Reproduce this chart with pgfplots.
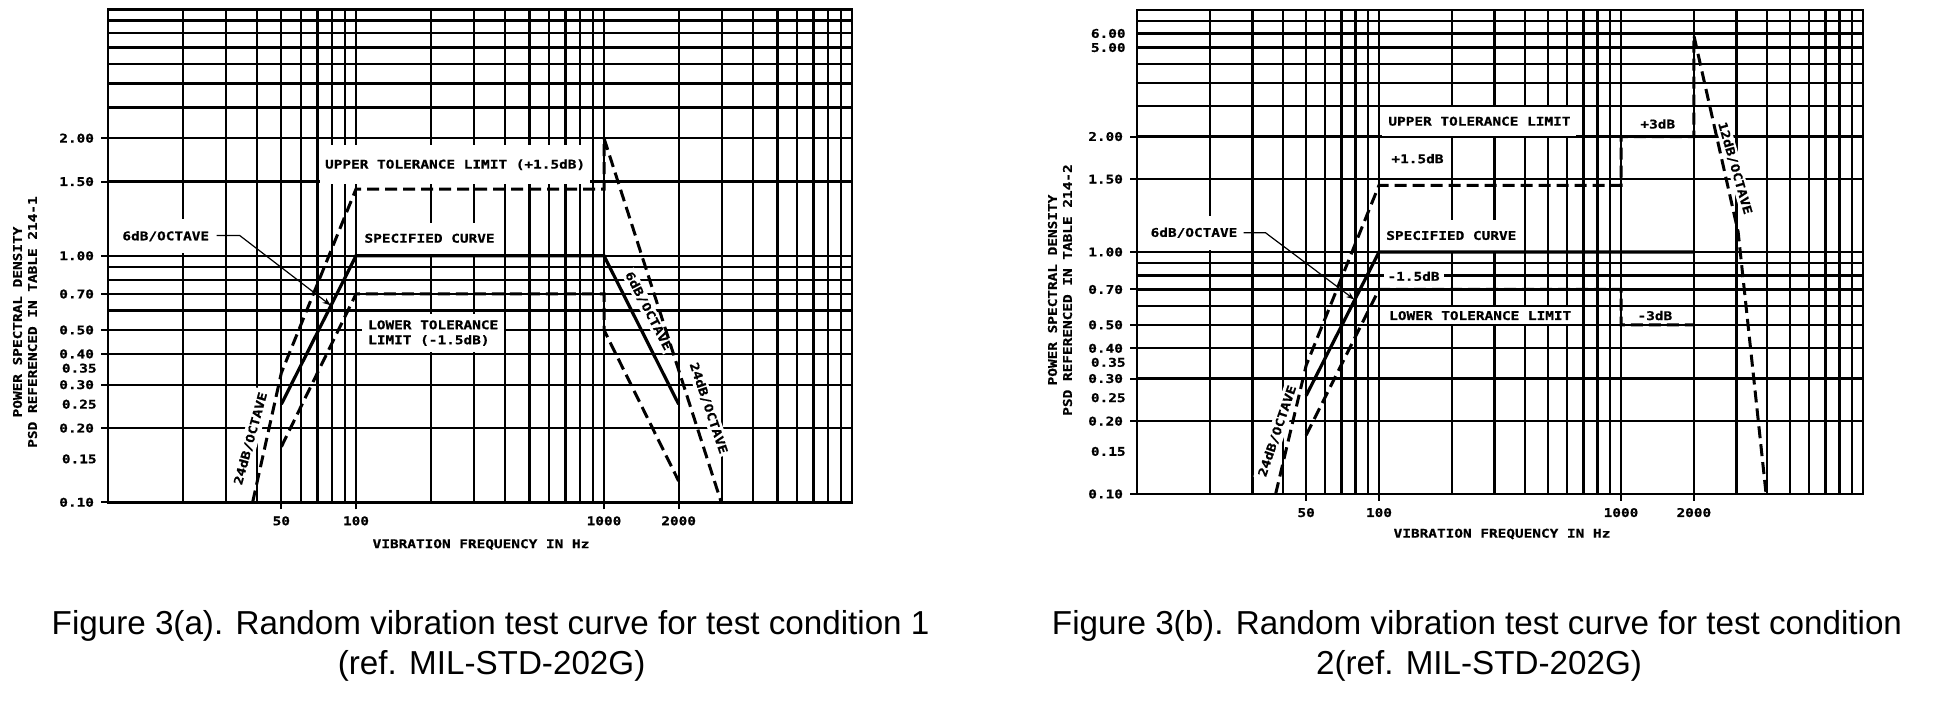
\documentclass[border=0pt]{standalone}
\usepackage{pgfplots}
\pgfplotsset{compat=1.18}
\usepackage{fontspec}
\usetikzlibrary{arrows.meta}
\newfontfamily\cad[FakeStretch=1.2, BoldFeatures={FakeBold=0.8}]{DejaVu Sans Mono}
\newfontfamily\arial{Liberation Sans}
\newcommand\cadf{\cad\bfseries\fontsize{6}{7.5}\selectfont}

\tikzset{
  lab/.style={font=\cadf, fill=white, inner xsep=2pt, inner ysep=2pt, align=left},
  spec/.style={black, line width=1.6pt},
  tol/.style={black, line width=1.5pt, dash pattern=on 6pt off 3pt},
  lead/.style={black, line width=0.6pt},
  ylab/.style={font=\cadf, anchor=east, inner sep=0pt, xshift=-5.5pt},
}

\begin{document}
\begin{tikzpicture}
\useasboundingbox (0,0) rectangle (967.5pt,-352.5pt);

% ---------------- Figure 3(a) ----------------
\begin{axis}[scale only axis, xmode=log, ymode=log,
  xmin=10, xmax=10000, ymin=0.1, ymax=10,
  axis line style={line width=1.4pt},
  minor xtick={20,30,40,50,60,70,80,90,100,200,300,400,500,600,700,800,900,1000,2000,3000,4000,5000,6000,7000,8000,9000},
  minor ytick={0.2,0.3,0.4,0.5,0.6,0.7,0.8,0.9,1,2,3,4,5,6,7,8,9},
  xminorgrids=true, yminorgrids=true,
  minor grid style={black, line width=1.15pt},
  minor tick length=0pt,
  xtick={50,100,1000,2000}, xticklabels={50,100,1000,2000},
  major tick length=3.5pt, tick align=outside,
  xtick pos=bottom, ytick pos=left,
  major tick style={black, line width=1pt},
  tick label style={font=\cadf},
  clip=false,
  at={(54pt,-251.15pt)}, anchor=south west, width=372pt, height=246.5pt,
  ytick={0.1,0.2,0.3,0.4,0.5,0.7,1,2,3},
  yticklabels={0.10,0.20,0.30,0.40,0.50,0.70,1.00,1.50,2.00}]
  \node[ylab] at (axis cs:10,0.15) {0.15};
  \node[ylab] at (axis cs:10,0.25) {0.25};
  \node[ylab] at (axis cs:10,0.35) {0.35};
  \node[lab, inner xsep=2.5pt, inner ysep=7pt] at (axis cs:251,2.34) {UPPER TOLERANCE LIMIT (+1.5dB)};
  \node[lab, inner xsep=3pt, inner ysep=5.5pt] at (axis cs:198,1.178) {SPECIFIED CURVE};
  \node[lab, anchor=west, inner xsep=3pt, inner ysep=3pt] at (axis cs:105.5,0.486) {LOWER TOLERANCE\\LIMIT (-1.5dB)};
  \node[lab, inner ysep=6pt] at (axis cs:17.1,1.2) {6dB/OCTAVE};
  \node[lab, rotate=74.5, inner sep=1.5pt] at (axis cs:37.6,0.1815) {24dB/OCTAVE};
  \node[lab, rotate=-62.5, inner sep=1pt] at (axis cs:1510,0.5975) {6dB/OCTAVE};
  \node[lab, rotate=-71.4, inner sep=1.2pt] at (axis cs:2640,0.241) {24dB/OCTAVE};
  \draw[lead, -{Stealth[length=4pt,width=3pt]}] (axis cs:27.4,1.208) -- (axis cs:34,1.208) -- (axis cs:79,0.63);
  % specified curve
  \addplot[spec] coordinates {(50,0.25) (100,1) (1000,1) (2000,0.25)};
  % upper tolerance
  \addplot[tol] coordinates {(38.3,0.1) (50,0.335) (100,1.866) (1000,1.866) (1000,3) (2970,0.1)};
  % lower tolerance
  \addplot[tol] coordinates {(50,0.168) (100,0.7) (1000,0.7) (1000,0.5) (2000,0.122)};
\end{axis}

% ---------------- Figure 3(b) ----------------
\begin{axis}[scale only axis, xmode=log, ymode=log,
  xmin=10, xmax=10000, ymin=0.1, ymax=10,
  axis line style={line width=1.4pt},
  minor xtick={20,30,40,50,60,70,80,90,100,200,300,400,500,600,700,800,900,1000,2000,3000,4000,5000,6000,7000,8000,9000},
  minor ytick={0.2,0.3,0.4,0.5,0.6,0.7,0.8,0.9,1,2,3,4,5,6,7,8,9},
  xminorgrids=true, yminorgrids=true,
  minor grid style={black, line width=1.15pt},
  minor tick length=0pt,
  xtick={50,100,1000,2000}, xticklabels={50,100,1000,2000},
  major tick length=3.5pt, tick align=outside,
  xtick pos=bottom, ytick pos=left,
  major tick style={black, line width=1pt},
  tick label style={font=\cadf},
  clip=false,
  at={(568.5pt,-247pt)}, anchor=south west, width=363pt, height=242pt,
  ytick={0.1,0.2,0.3,0.4,0.5,0.7,1,2,3},
  yticklabels={0.10,0.20,0.30,0.40,0.50,0.70,1.00,1.50,2.00}]
  \node[ylab] at (axis cs:10,0.15) {0.15};
  \node[ylab] at (axis cs:10,0.25) {0.25};
  \node[ylab] at (axis cs:10,0.35) {0.35};
  \node[ylab] at (axis cs:10,7) {5.00};
  \node[ylab] at (axis cs:10,8) {6.00};
  \node[lab, inner xsep=3pt, inner ysep=5pt] at (axis cs:260,3.47) {UPPER TOLERANCE LIMIT};
  \node[lab, anchor=west] at (axis cs:108,2.43) {+1.5dB};
  \node[lab, inner xsep=3pt, inner ysep=5.5pt] at (axis cs:199,1.17) {SPECIFIED CURVE};
  \node[lab, anchor=west] at (axis cs:104,0.794) {-1.5dB};
  \node[lab, inner xsep=3pt, inner ysep=2pt] at (axis cs:262,0.546) {LOWER TOLERANCE LIMIT};
  \node[lab] at (axis cs:1419,3.38) {+3dB};
  \node[lab] at (axis cs:1380,0.546) {-3dB};
  \node[lab, inner ysep=6pt] at (axis cs:17.2,1.2) {6dB/OCTAVE};
  \node[lab, rotate=71.3, inner sep=1.5pt] at (axis cs:38,0.182) {24dB/OCTAVE};
  \node[lab, rotate=-74, inner sep=1pt] at (axis cs:2960,2.22) {12dB/OCTAVE};
  \draw[lead, -{Stealth[length=4pt,width=3pt]}] (axis cs:27.6,1.2) -- (axis cs:34,1.2) -- (axis cs:79,0.637);
  \addplot[spec] coordinates {(50,0.255) (100,1) (2000,1)};
  \addplot[tol] coordinates {(37.4,0.1) (50,0.34) (100,1.887) (1000,1.887) (1000,3) (2000,3) (2000,7.85) (3048,1.21) (3977,0.1)};
  \addplot[tol] coordinates {(50,0.175) (100,0.7) (1000,0.7) (1000,0.5) (1980,0.5)};
\end{axis}

% axis titles
\node[font=\cadf, rotate=90, align=center] at (12.5pt,-161pt) {POWER SPECTRAL DENSITY\\PSD REFERENCED IN TABLE 214-1};
\node[font=\cadf, rotate=90, align=center] at (530pt,-145pt) {POWER SPECTRAL DENSITY\\PSD REFERENCED IN TABLE 214-2};
\node[font=\cadf] at (240.5pt,-272.25pt) {VIBRATION FREQUENCY IN Hz};
\node[font=\cadf] at (751pt,-267pt) {VIBRATION FREQUENCY IN Hz};

% captions
\begin{scope}[every node/.style={font=\arial\fontsize{16.6}{20}\selectfont, inner sep=0pt}]
\node at (245.3pt,-312.8pt) {Figure 3(a). Random vibration test curve for test condition 1};
\node at (245.8pt,-333.2pt) {(ref. MIL-STD-202G)};
\node at (738.5pt,-312.8pt) {Figure 3(b). Random vibration test curve for test condition};
\node at (739.5pt,-333.2pt) {2(ref. MIL-STD-202G)};
\end{scope}
\end{tikzpicture}
\end{document}
